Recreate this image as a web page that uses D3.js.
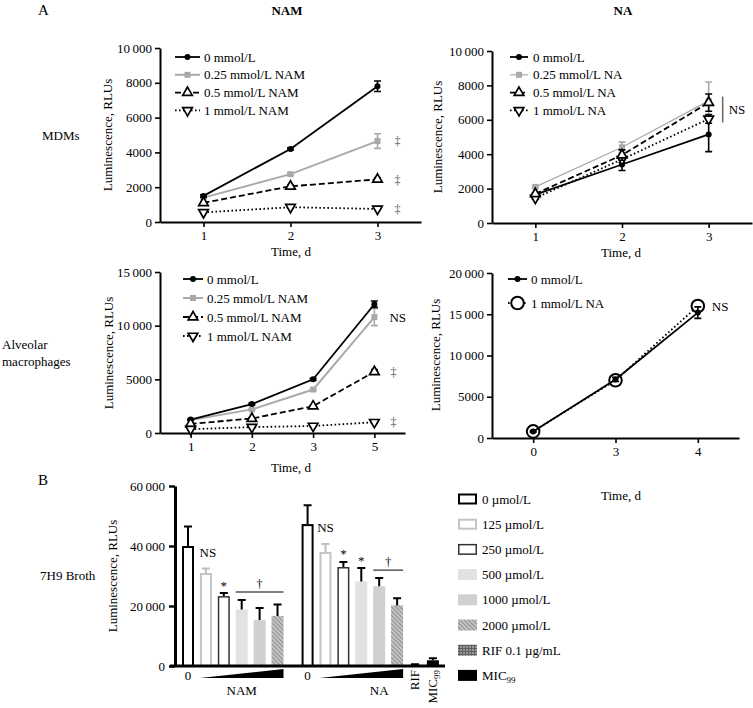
<!DOCTYPE html>
<html><head><meta charset="utf-8">
<script src="https://cdn.jsdelivr.net/npm/d3@7"></script>
<style>
body{margin:0;background:#fff;}
svg, svg text{font-family:'Liberation Serif','Times New Roman',Times,'DejaVu Serif',serif;}
</style></head><body>
<svg id="c" width="753" height="708"></svg>
<script>
// ---------------- DATA ----------------
const mdmDays = ["1","2","3"];
const amNamDays = ["1","2","3","5"];
const amNaDays = ["0","3","4"];

const namLegend = ["0 mmol/L","0.25 mmol/L NAM","0.5 mmol/L NAM","1 mmol/L NAM"];
const naLegend = ["0 mmol/L","0.25 mmol/L NA","0.5 mmol/L NA","1 mmol/L NA"];
const amNaLegend = ["0 mmol/L","1 mmol/L NA"];

// MDMs, NAM
const mdmNam0 = [1500, 4200, 7800],   mdmNam0Err = [70, 60, 300];
const mdmNam025 = [1400, 2750, 4650], mdmNam025Err = [60, 80, 420];
const mdmNam05 = [1100, 2050, 2450],  mdmNam05Err = [50, 60, 90];
const mdmNam1 = [550, 850, 750],      mdmNam1Err = [40, 50, 50];
// MDMs, NA
const mdmNa0 = [1650, 3400, 5150],    mdmNa0Err = [80, 350, 1000];
const mdmNa025 = [2100, 4400, 7100],  mdmNa025Err = [60, 300, 1100];
const mdmNa05 = [1700, 3950, 7000],   mdmNa05Err = [60, 300, 500];
const mdmNa1 = [1450, 3700, 6050],    mdmNa1Err = [60, 200, 250];
// Alveolar macrophages, NAM
const amNam0 = [1250, 2700, 5000, 12000],  amNam0Err = [60, 80, 100, 300];
const amNam025 = [1200, 2200, 4050, 10800], amNam025Err = [60, 80, 100, 800];
const amNam05 = [850, 1350, 2500, 5700],   amNam05Err = [60, 60, 80, 200];
const amNam1 = [350, 550, 650, 1000],      amNam1Err = [40, 40, 40, 80];
// Alveolar macrophages, NA
const amNa0 = [800, 7100, 15200], amNa0Err = [100, 250, 700];
const amNa1 = [800, 7000, 16000], amNa1Err = [100, 200, 200];

// 7H9 broth
const brothLegend = ["0 \u00b5mol/L","125 \u00b5mol/L","250 \u00b5mol/L","500 \u00b5mol/L","1000 \u00b5mol/L","2000 \u00b5mol/L","RIF 0.1 \u00b5g/mL","MIC99"];
const namBarValues = [40000, 31000, 23300, 18800, 15300, 16700];
const namBarErr    = [6500, 1500, 1000, 3200, 4000, 3800];
const naBarValues  = [47300, 38000, 33000, 28200, 26600, 20200];
const naBarErr     = [6300, 2700, 1700, 4500, 2700, 2400];
const ctrlBarNames = ["RIF","MIC99"];
const ctrlBarValues = [400, 1900];
const ctrlBarErr    = [150, 700];

// tick values
const yTicksMdm = [0,2000,4000,6000,8000,10000];
const yTicksAmNam = [0,5000,10000,15000];
const yTicksAmNa = [0,5000,10000,15000,20000];
const yTicksBroth = [0,20000,40000,60000];

// ---------------- DRAW ----------------
const svg = d3.select("#c");
const FF = "'Liberation Serif','Times New Roman',Times,'DejaVu Serif',serif";
const fmt = d => d >= 10000 ? d3.format(",")(d).replace(/,/g, "\u2009") : String(d);

function styleAxis(sel, w){
  sel.attr("font-size", 13).attr("font-family", FF);
  sel.select(".domain").attr("stroke","#000").attr("stroke-width", w);
  sel.selectAll(".tick line").attr("stroke","#000").attr("stroke-width", w*0.8);
  sel.selectAll(".tick text").attr("fill","#000");
}
function txt(x, y, s, opts={}){
  const t = svg.append("text").attr("x",x).attr("y",y).text(s)
    .attr("font-size", opts.size||13).attr("font-family",FF).attr("fill", opts.fill||"#000");
  if (opts.anchor) t.attr("text-anchor", opts.anchor);
  if (opts.bold) t.attr("font-weight","bold");
  if (opts.dy) t.attr("dy", opts.dy);
  return t;
}
function vlabel(x, y, s){
  svg.append("text").attr("transform",`translate(${x},${y}) rotate(-90)`)
    .attr("text-anchor","middle").attr("dy","0.35em")
    .attr("font-size",13).attr("font-family",FF).text(s);
}

const STY = {
  ctrl: {stroke:"#000", w:1.8, dash:null},
  low:  {stroke:"#a9a9a9", w:1.8, dash:null},
  mid:  {stroke:"#000", w:1.8, dash:"6,3"},
  high: {stroke:"#000", w:1.8, dash:"1.6,2.4"},
  circ: {stroke:"#000", w:1.8, dash:"1.6,2.4"}
};
function marker(g, style, cx, cy){
  if (style === "ctrl") g.append("circle").attr("cx",cx).attr("cy",cy).attr("r",3).attr("fill","#000");
  else if (style === "low") g.append("rect").attr("x",cx-3).attr("y",cy-3).attr("width",6).attr("height",6).attr("fill","#a9a9a9");
  else if (style === "mid") g.append("path").attr("d", d3.symbol(d3.symbolTriangle, 40)()).attr("transform",`translate(${cx},${cy})`)
      .attr("fill","#fff").attr("stroke","#000").attr("stroke-width",1.7);
  else if (style === "high") g.append("path").attr("d", d3.symbol(d3.symbolTriangle, 40)()).attr("transform",`translate(${cx},${cy}) rotate(180)`)
      .attr("fill","#fff").attr("stroke","#000").attr("stroke-width",1.7);
  else if (style === "circ") g.append("circle").attr("cx",cx).attr("cy",cy).attr("r",6.3).attr("fill","#fff").attr("stroke","#000").attr("stroke-width",2);
}

function linePanel(o){
  const x = d3.scalePoint().domain(o.days).range(o.xr).padding(0.5);
  const y = d3.scaleLinear().domain([0, d3.max(o.yticks)]).range(o.yr);
  const g = svg.append("g");
  const ax = g.append("g").attr("transform",`translate(0,${o.yr[0]})`)
    .call(d3.axisBottom(x).tickSize(5).tickSizeOuter(0).tickPadding(4));
  styleAxis(ax, 2);
  const ay = g.append("g").attr("transform",`translate(${o.xr[0]},0)`)
    .call(d3.axisLeft(y).tickValues(o.yticks).tickFormat(fmt).tickSize(5).tickSizeOuter(0).tickPadding(3));
  styleAxis(ay, 2);
  txt(o.xlabel[0], o.xlabel[1], "Time, d", {anchor:"middle"});
  vlabel(o.ylabel[0], o.ylabel[1], "Luminescence, RLUs");

  const line = d3.line().x((d,i)=>x(o.days[i])).y(d=>y(d));
  o.order.forEach(k => {
    const s = o.series[k], st = STY[s.style];
    const sg = g.append("g");
    const p = sg.append("path").datum(s.values).attr("d", line).attr("fill","none")
      .attr("stroke", st.stroke).attr("stroke-width", s.w || st.w);
    if (st.dash) p.attr("stroke-dasharray", st.dash);
    s.values.forEach((v,i) => {
      const cx = x(o.days[i]), e = s.err[i];
      sg.append("path").attr("d", `M${cx},${y(v-e)}V${y(v+e)}M${cx-3.5},${y(v-e)}H${cx+3.5}M${cx-3.5},${y(v+e)}H${cx+3.5}`)
        .attr("stroke", st.stroke).attr("stroke-width",1.6).attr("fill","none");
    });
    s.values.forEach((v,i) => marker(sg, s.style, x(o.days[i]), y(v)));
  });
  // legend
  o.series.forEach((s,i) => {
    const st = STY[s.style];
    const ly = o.leg.y + i*o.leg.step;
    const l = g.append("line").attr("x1",o.leg.x0).attr("x2",o.leg.x1).attr("y1",ly).attr("y2",ly)
      .attr("stroke",st.stroke).attr("stroke-width", s.w || st.w);
    if (st.dash) l.attr("stroke-dasharray", st.dash);
    marker(g, s.style, (o.leg.x0+o.leg.x1)/2, ly);
    txt(o.leg.tx, ly, s.name, {dy:"0.35em"});
  });
  return {x, y};
}

// Titles
txt(38, 15, "A", {size:15});
txt(287, 15, "NAM", {anchor:"middle", bold:true});
txt(623, 15, "NA", {anchor:"middle", bold:true});
txt(42, 140, "MDMs");
txt(2, 349, "Alveolar");
txt(2, 366, "macrophages");
txt(38, 485, "B", {size:15});
txt(40, 580, "7H9 Broth");

// Panel 1: MDMs NAM
const p1 = linePanel({
  days: mdmDays, xr:[160,421], yr:[222,48], yticks: yTicksMdm,
  xlabel:[291,256], ylabel:[107,135],
  series:[
    {name:namLegend[0], values:mdmNam0, err:mdmNam0Err, style:"ctrl"},
    {name:namLegend[1], values:mdmNam025, err:mdmNam025Err, style:"low", w:2},
    {name:namLegend[2], values:mdmNam05, err:mdmNam05Err, style:"mid"},
    {name:namLegend[3], values:mdmNam1, err:mdmNam1Err, style:"high"}
  ], order:[1,0,2,3],
  leg:{x0:175, x1:200, tx:204, y:57, step:17.8}
});
[mdmNam025, mdmNam05, mdmNam1].forEach(arr => {
  txt(p1.x("3")+20, p1.y(arr[2]), "\u2021", {anchor:"middle", dy:"0.35em", fill:"#555", size:12});
});

// Panel 2: MDMs NA
const p2 = linePanel({
  days: mdmDays, xr:[492,752], yr:[223,51], yticks: yTicksMdm,
  xlabel:[621,257], ylabel:[437,137],
  series:[
    {name:naLegend[0], values:mdmNa0, err:mdmNa0Err, style:"ctrl"},
    {name:naLegend[1], values:mdmNa025, err:mdmNa025Err, style:"low", w:1.2},
    {name:naLegend[2], values:mdmNa05, err:mdmNa05Err, style:"mid"},
    {name:naLegend[3], values:mdmNa1, err:mdmNa1Err, style:"high"}
  ], order:[1,0,3,2],
  leg:{x0:510, x1:528, tx:533, y:57, step:17.8}
});
{
  const bx = p2.x("3") + 14;
  svg.append("line").attr("x1",bx).attr("x2",bx).attr("y1",p2.y(7350)).attr("y2",p2.y(5850))
    .attr("stroke","#666").attr("stroke-width",1.5);
  txt(bx+6, p2.y(6600), "NS", {dy:"0.35em"});
}

// Panel 3: Alveolar macrophages NAM
const p3 = linePanel({
  days: amNamDays, xr:[160,405], yr:[433,272], yticks: yTicksAmNam,
  xlabel:[291,472], ylabel:[108,353],
  series:[
    {name:namLegend[0], values:amNam0, err:amNam0Err, style:"ctrl"},
    {name:namLegend[1], values:amNam025, err:amNam025Err, style:"low", w:2},
    {name:namLegend[2], values:amNam05, err:amNam05Err, style:"mid"},
    {name:namLegend[3], values:amNam1, err:amNam1Err, style:"high"}
  ], order:[1,0,2,3],
  leg:{x0:183, x1:203, tx:207, y:279, step:19}
});
txt(p3.x("5")+15, p3.y(amNam025[3]), "NS", {dy:"0.35em"});
[amNam05, amNam1].forEach(arr => {
  txt(p3.x("5")+19, p3.y(arr[3]), "\u2021", {anchor:"middle", dy:"0.35em", fill:"#555", size:12});
});

// Panel 4: Alveolar macrophages NA
const p4 = linePanel({
  days: amNaDays, xr:[492,739], yr:[438,273], yticks: yTicksAmNa,
  xlabel:[621,500], ylabel:[435,355],
  series:[
    {name:amNaLegend[0], values:amNa0, err:amNa0Err, style:"ctrl"},
    {name:amNaLegend[1], values:amNa1, err:amNa1Err, style:"circ"}
  ], order:[1,0],
  leg:{x0:508, x1:527, tx:531, y:279, step:24}
});
txt(p4.x("4")+14, p4.y(amNa1[2]), "NS", {dy:"0.35em"});

// ---------------- Panel B ----------------
const defs = svg.append("defs");
const hatch = defs.append("pattern").attr("id","hatch").attr("patternUnits","userSpaceOnUse")
  .attr("width",3).attr("height",3).attr("patternTransform","rotate(-45)");
hatch.append("rect").attr("width",3).attr("height",3).attr("fill","#cfcfcf");
hatch.append("line").attr("x1",0.75).attr("x2",0.75).attr("y1",0).attr("y2",3).attr("stroke","#8c8c8c").attr("stroke-width",1.3);
const grid = defs.append("pattern").attr("id","grid").attr("patternUnits","userSpaceOnUse")
  .attr("width",3).attr("height",3);
grid.append("rect").attr("width",3).attr("height",3).attr("fill","#9a9a9a");
grid.append("path").attr("d","M0,0.5H3M0.5,0V3").attr("stroke","#5e5e5e").attr("stroke-width",1);

const barStyles = [
  {fill:"#fff", stroke:"#000", sw:2},
  {fill:"#fff", stroke:"#c4c4c4", sw:2},
  {fill:"#fff", stroke:"#333", sw:1.5},
  {fill:"#e2e2e2", stroke:"none", sw:0},
  {fill:"#d0d0d0", stroke:"none", sw:0},
  {fill:"url(#hatch)", stroke:"none", sw:0},
  {fill:"url(#grid)", stroke:"none", sw:0},
  {fill:"#000", stroke:"none", sw:0}
];
const groupGap = 0.68;
const bxs = d3.scaleLinear().domain([0, 13 + groupGap]).range([188, 432.9]);
const bys = d3.scaleLinear().domain([0, 60000]).range([666, 486]);
const BW = 12;

const bars = [];
namBarValues.forEach((v,i) => bars.push({slot:i, v, e:namBarErr[i], st:i}));
naBarValues.forEach((v,i) => bars.push({slot:6+groupGap+i, v, e:naBarErr[i], st:i}));
ctrlBarValues.forEach((v,i) => bars.push({slot:12+groupGap+i, v, e:ctrlBarErr[i], st:6+i}));

const bg = svg.append("g");
bars.forEach(b => {
  const cx = bxs(b.slot), s = barStyles[b.st];
  const top = bys(b.v), base = bys(0);
  bg.append("rect").attr("x", cx-BW/2+s.sw/2).attr("y", top+s.sw/2)
    .attr("width", BW-s.sw).attr("height", base-top-s.sw/2)
    .attr("fill", s.fill).attr("stroke", s.stroke).attr("stroke-width", s.sw);
  const et = bys(b.v + b.e);
  bg.append("path").attr("d", `M${cx},${top}V${et}M${cx-4},${et}H${cx+4}`)
    .attr("stroke", b.st===1 ? "#bdbdbd" : "#000").attr("stroke-width",2).attr("fill","none");
});
// axes
const byAx = svg.append("g").attr("transform","translate(175,0)")
  .call(d3.axisLeft(bys).tickValues(yTicksBroth).tickFormat(fmt).tickSize(6).tickSizeOuter(0).tickPadding(4));
styleAxis(byAx, 3);
svg.append("line").attr("x1",170).attr("x2",445).attr("y1",bys(0)).attr("y2",bys(0))
  .attr("stroke","#000").attr("stroke-width",3);
vlabel(112, 576, "Luminescence, RLUs");

// annotations B
function errTop(vals, errs, i){ return bys(vals[i]+errs[i]); }
txt(bxs(1)+2, errTop(namBarValues,namBarErr,1)-16, "NS", {anchor:"middle", dy:"0.35em"});
txt(bxs(2), errTop(namBarValues,namBarErr,2)-8, "*", {anchor:"middle", dy:"0.35em"});
txt(bxs(6+groupGap+1), errTop(naBarValues,naBarErr,1)-16, "NS", {anchor:"middle", dy:"0.35em"});
txt(bxs(6+groupGap+2), errTop(naBarValues,naBarErr,2)-8, "*", {anchor:"middle", dy:"0.35em"});
txt(bxs(6+groupGap+3), errTop(naBarValues,naBarErr,3)-7, "*", {anchor:"middle", dy:"0.35em"});
function bracket(i0, i1, vals, errs, off){
  const by = d3.min(d3.range(i0 - off, i1 - off + 1), k => errTop(vals, errs, k)) - 8;
  const x0 = bxs(i0) - BW/2, x1 = bxs(i1) + BW/2;
  svg.append("line").attr("x1",x0).attr("x2",x1).attr("y1",by).attr("y2",by).attr("stroke","#000").attr("stroke-width",1);
  txt((x0+x1)/2, by-4, "\u2020", {anchor:"middle", size:12});
}
bracket(3, 5, namBarValues, namBarErr, 0);
bracket(6+groupGap+4, 6+groupGap+5, naBarValues, naBarErr, 6+groupGap);

// wedges
function wedge(i0, i1){
  const x0 = bxs(i0) - BW/2, x1 = bxs(i1) + BW/2, yb = 678;
  svg.append("path").attr("d", `M${x0},${yb}L${x1},${yb-9}L${x1},${yb}Z`).attr("fill","#000");
}
wedge(1, 5);
wedge(6+groupGap+1, 6+groupGap+5);
txt(bxs(0), 680, "0", {anchor:"middle"});
txt(bxs(6+groupGap), 680, "0", {anchor:"middle"});
txt(bxs(3), 695, "NAM", {anchor:"middle"});
txt(bxs(6+groupGap+4), 695, "NA", {anchor:"middle"});
svg.append("text").attr("transform",`translate(${bxs(12+groupGap)+4},670) rotate(-90)`)
  .attr("text-anchor","end").attr("font-size",13).attr("font-family",FF).text(ctrlBarNames[0]);
{
  const t = svg.append("text").attr("transform",`translate(${bxs(13+groupGap)+4},670) rotate(-90)`)
    .attr("text-anchor","end").attr("font-size",13).attr("font-family",FF);
  t.append("tspan").text("MIC");
  t.append("tspan").attr("font-size",9).attr("dy",3).text("99");
}

// legend B
brothLegend.forEach((name,i) => {
  const ly = 499 + i*25.2, s = barStyles[i];
  svg.append("rect").attr("x", 458+s.sw/2).attr("y", ly-5.5+s.sw/2).attr("width", 19-s.sw).attr("height", 11-s.sw)
    .attr("fill", s.fill).attr("stroke", s.stroke).attr("stroke-width", s.sw);
  if (name === "MIC99") {
    const t = txt(482, ly, "", {dy:"0.35em"});
    t.append("tspan").text("MIC");
    t.append("tspan").attr("font-size",9).attr("dy",3).text("99");
  } else {
    txt(482, ly, name, {dy:"0.35em"});
  }
});
</script>
</body></html>
